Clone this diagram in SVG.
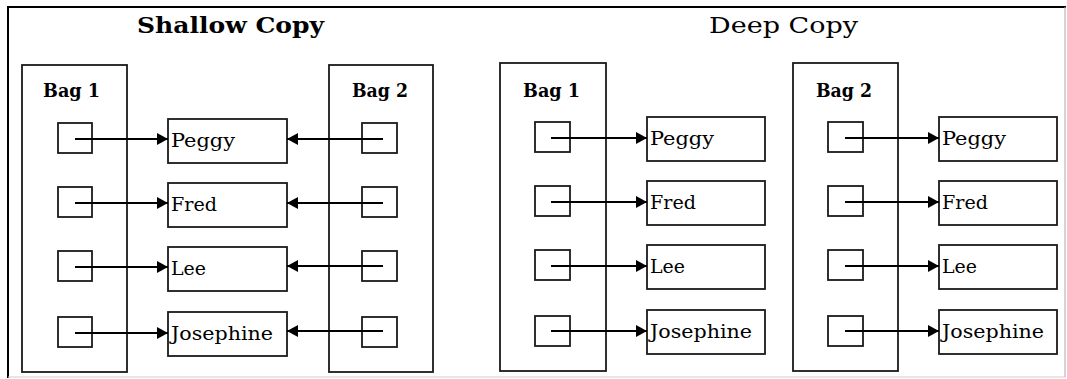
<svg xmlns="http://www.w3.org/2000/svg" width="1067" height="379" viewBox="0 0 1067 379">
<style>
.box{fill:#fff;stroke:#1a1a1a;stroke-width:1.8}
.sq{fill:none;stroke:#1a1a1a;stroke-width:1.8}
.title{font-family:"DejaVu Serif","Liberation Serif",serif;font-size:23px;fill:#000}
.bag{font-family:"DejaVu Serif","Liberation Serif",serif;font-size:19px;font-weight:bold;fill:#000}
.name{font-family:"DejaVu Serif","Liberation Serif",serif;font-size:18.5px;fill:#000}
.conn line{stroke:#000;stroke-width:1.8;marker-end:url(#ah)}
</style>
<defs>
<marker id="ah" markerUnits="userSpaceOnUse" markerWidth="12" markerHeight="12" refX="11" refY="6" orient="auto">
<path d="M0,0 L11,6 L0,12 z" fill="#000"/>
</marker>
</defs>
<rect x="0" y="0" width="1067" height="379" fill="#fff"/>
<g id="frame">
<line x1="8" y1="7" x2="1066" y2="7" stroke="#000" stroke-width="2"/>
<line x1="8" y1="6" x2="8" y2="378" stroke="#000" stroke-width="2"/>
<line x1="1065" y1="7" x2="1065" y2="377" stroke="#aaa" stroke-width="1"/>
<line x1="8" y1="377" x2="1066" y2="377" stroke="#ccc" stroke-width="1"/>
</g>
<text class="title" x="137" y="33" font-weight="bold" textLength="187" lengthAdjust="spacingAndGlyphs">Shallow Copy</text>
<text class="title" x="709" y="33" textLength="149" lengthAdjust="spacingAndGlyphs">Deep Copy</text>

<!-- Shallow copy -->
<g id="s-bag1">
<rect class="box" x="22" y="65" width="105" height="307"/>
<text class="bag" x="43" y="97" textLength="57" lengthAdjust="spacingAndGlyphs">Bag 1</text>
<rect class="sq" x="58" y="123" width="34" height="30"/>
<rect class="sq" x="58" y="187" width="34" height="30"/>
<rect class="sq" x="58" y="251" width="34" height="30"/>
<rect class="sq" x="58" y="317" width="34" height="30"/>
</g>
<g id="s-bag2">
<rect class="box" x="329" y="65" width="104" height="307"/>
<text class="bag" x="352" y="97" textLength="56" lengthAdjust="spacingAndGlyphs">Bag 2</text>
<rect class="sq" x="362" y="123" width="35" height="30"/>
<rect class="sq" x="362" y="187" width="35" height="30"/>
<rect class="sq" x="362" y="251" width="35" height="30"/>
<rect class="sq" x="362" y="317" width="35" height="30"/>
</g>
<g id="s-peggy"><rect class="box" x="168" y="119" width="119" height="44"/><text class="name" x="171" y="147" textLength="64" lengthAdjust="spacingAndGlyphs">Peggy</text></g>
<g id="s-fred"><rect class="box" x="168" y="183" width="119" height="44"/><text class="name" x="171" y="211" textLength="46" lengthAdjust="spacingAndGlyphs">Fred</text></g>
<g id="s-lee"><rect class="box" x="168" y="247" width="119" height="44"/><text class="name" x="171" y="275" textLength="35" lengthAdjust="spacingAndGlyphs">Lee</text></g>
<g id="s-josephine"><rect class="box" x="168" y="312" width="119" height="44"/><text class="name" x="171" y="340" textLength="102" lengthAdjust="spacingAndGlyphs">Josephine</text></g>

<!-- Deep copy -->
<g id="d-bag1">
<rect class="box" x="500" y="63" width="106" height="308"/>
<text class="bag" x="523" y="97" textLength="57" lengthAdjust="spacingAndGlyphs">Bag 1</text>
<rect class="sq" x="535" y="122" width="35" height="30"/>
<rect class="sq" x="535" y="186" width="35" height="30"/>
<rect class="sq" x="535" y="250" width="35" height="30"/>
<rect class="sq" x="535" y="316" width="35" height="30"/>
</g>
<g id="d-bag2">
<rect class="box" x="793" y="63" width="105" height="308"/>
<text class="bag" x="816" y="97" textLength="56" lengthAdjust="spacingAndGlyphs">Bag 2</text>
<rect class="sq" x="828" y="122" width="35" height="30"/>
<rect class="sq" x="828" y="186" width="35" height="30"/>
<rect class="sq" x="828" y="250" width="35" height="30"/>
<rect class="sq" x="828" y="316" width="35" height="30"/>
</g>
<g id="d1-peggy"><rect class="box" x="647" y="117" width="118" height="44"/><text class="name" x="650" y="145" textLength="64" lengthAdjust="spacingAndGlyphs">Peggy</text></g>
<g id="d1-fred"><rect class="box" x="647" y="181" width="118" height="44"/><text class="name" x="650" y="209" textLength="46" lengthAdjust="spacingAndGlyphs">Fred</text></g>
<g id="d1-lee"><rect class="box" x="647" y="245" width="118" height="44"/><text class="name" x="650" y="273" textLength="35" lengthAdjust="spacingAndGlyphs">Lee</text></g>
<g id="d1-josephine"><rect class="box" x="647" y="310" width="118" height="44"/><text class="name" x="650" y="338" textLength="102" lengthAdjust="spacingAndGlyphs">Josephine</text></g>
<g id="d2-peggy"><rect class="box" x="939" y="117" width="118" height="44"/><text class="name" x="942" y="145" textLength="64" lengthAdjust="spacingAndGlyphs">Peggy</text></g>
<g id="d2-fred"><rect class="box" x="939" y="181" width="118" height="44"/><text class="name" x="942" y="209" textLength="46" lengthAdjust="spacingAndGlyphs">Fred</text></g>
<g id="d2-lee"><rect class="box" x="939" y="245" width="118" height="44"/><text class="name" x="942" y="273" textLength="35" lengthAdjust="spacingAndGlyphs">Lee</text></g>
<g id="d2-josephine"><rect class="box" x="939" y="310" width="118" height="44"/><text class="name" x="942" y="338" textLength="102" lengthAdjust="spacingAndGlyphs">Josephine</text></g>

<g id="connectors" class="conn">
<line x1="75" y1="139" x2="168" y2="139"/>
<line x1="75" y1="203" x2="168" y2="203"/>
<line x1="75" y1="267" x2="168" y2="267"/>
<line x1="75" y1="333" x2="168" y2="333"/>
<line x1="383" y1="139" x2="287" y2="139"/>
<line x1="383" y1="203" x2="287" y2="203"/>
<line x1="383" y1="266" x2="287" y2="266"/>
<line x1="383" y1="331" x2="287" y2="331"/>
<line x1="551" y1="138" x2="647" y2="138"/>
<line x1="551" y1="202" x2="647" y2="202"/>
<line x1="551" y1="266" x2="647" y2="266"/>
<line x1="551" y1="331" x2="647" y2="331"/>
<line x1="845" y1="138" x2="939" y2="138"/>
<line x1="845" y1="202" x2="939" y2="202"/>
<line x1="845" y1="266" x2="939" y2="266"/>
<line x1="845" y1="331" x2="939" y2="331"/>
</g>
</svg>
